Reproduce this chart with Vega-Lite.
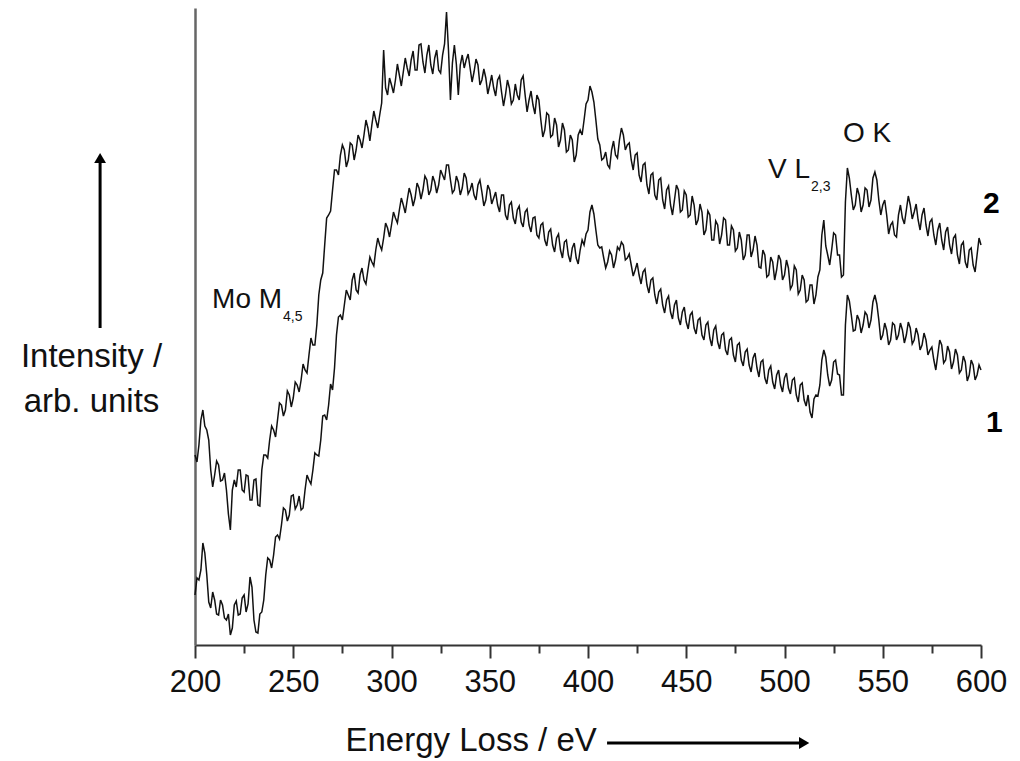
{
  "$schema": "https://vega.github.io/schema/vega-lite/v6.json",
  "width": 786,
  "height": 637,
  "autosize": {"type": "none"},
  "padding": {"left": 195, "top": 8, "right": 39, "bottom": 116},
  "background": "white",
  "config": {"view": {"stroke": null}, "font": "Liberation Sans"},
  "datasets": {
    "spectra": [
      {"e":200,"a":185,"b":45},{"e":201,"a":178,"b":62},{"e":202,"a":195,"b":60},{"e":203,"a":220,"b":70},{"e":204,"a":230,"b":97},{"e":205,"a":214,"b":87},{"e":206,"a":210,"b":65},{"e":207,"a":200,"b":38},{"e":208,"a":170,"b":32},{"e":209,"a":153,"b":48},
      {"e":210,"a":165,"b":40},{"e":211,"a":179,"b":26},{"e":212,"a":175,"b":25},{"e":213,"a":159,"b":40},{"e":214,"a":160,"b":35},{"e":215,"a":167,"b":22},{"e":216,"a":150,"b":20},{"e":217,"a":126,"b":26},{"e":218,"a":110,"b":5},{"e":219,"a":150,"b":12},
      {"e":220,"a":160,"b":35},{"e":221,"a":153,"b":39},{"e":222,"a":170,"b":25},{"e":223,"a":170,"b":26},{"e":224,"a":150,"b":42},{"e":225,"a":148,"b":45},{"e":226,"a":165,"b":28},{"e":227,"a":164,"b":36},{"e":228,"a":140,"b":63},{"e":229,"a":140,"b":53},
      {"e":230,"a":160,"b":20},{"e":231,"a":161,"b":8},{"e":232,"a":135,"b":7},{"e":233,"a":134,"b":26},{"e":234,"a":170,"b":28},{"e":235,"a":185,"b":40},{"e":236,"a":185,"b":65},{"e":237,"a":182,"b":82},{"e":238,"a":200,"b":80},{"e":239,"a":214,"b":72},
      {"e":240,"a":210,"b":85},{"e":241,"a":203,"b":103},{"e":242,"a":220,"b":105},{"e":243,"a":237,"b":101},{"e":244,"a":235,"b":115},{"e":245,"a":224,"b":132},{"e":246,"a":230,"b":130},{"e":247,"a":249,"b":119},{"e":248,"a":245,"b":125},{"e":249,"a":233,"b":144},
      {"e":250,"a":242,"b":145},{"e":251,"a":258,"b":131},{"e":252,"a":255,"b":135},{"e":253,"a":248,"b":144},{"e":254,"a":260,"b":130},{"e":255,"a":276,"b":132},{"e":256,"a":270,"b":150},{"e":257,"a":267,"b":165},{"e":258,"a":285,"b":160},{"e":259,"a":302,"b":156},
      {"e":260,"a":295,"b":170},{"e":261,"a":295,"b":187},{"e":262,"a":315,"b":185},{"e":263,"a":345,"b":184},{"e":264,"a":360,"b":200},{"e":265,"a":367,"b":224},{"e":266,"a":395,"b":225},{"e":267,"a":422,"b":220},{"e":268,"a":425,"b":235},{"e":269,"a":429,"b":256},
      {"e":270,"a":450,"b":250},{"e":271,"a":470,"b":272},{"e":272,"a":470,"b":305},{"e":273,"a":465,"b":323},{"e":274,"a":485,"b":325},{"e":275,"a":495,"b":320},{"e":276,"a":490,"b":335},{"e":277,"a":473,"b":350},{"e":278,"a":480,"b":345},{"e":279,"a":497,"b":340},
      {"e":280,"a":495,"b":360},{"e":281,"a":480,"b":367},{"e":282,"a":490,"b":350},{"e":283,"a":505,"b":347},{"e":284,"a":500,"b":365},{"e":285,"a":492,"b":372},{"e":286,"a":505,"b":360},{"e":287,"a":520,"b":356},{"e":288,"a":512,"b":370},{"e":289,"a":499,"b":383},
      {"e":290,"a":515,"b":378},{"e":291,"a":529,"b":374},{"e":292,"a":520,"b":390},{"e":293,"a":512,"b":402},{"e":294,"a":525,"b":395},{"e":295,"a":537,"b":390},{"e":296,"a":590,"b":402},{"e":297,"a":552,"b":417},{"e":298,"a":545,"b":412},{"e":299,"a":562,"b":403},
      {"e":300,"a":555,"b":415},{"e":301,"a":547,"b":428},{"e":302,"a":560,"b":422},{"e":303,"a":576,"b":417},{"e":304,"a":565,"b":430},{"e":305,"a":554,"b":442},{"e":306,"a":568,"b":435},{"e":307,"a":582,"b":427},{"e":308,"a":572,"b":440},{"e":309,"a":564,"b":452},
      {"e":310,"a":580,"b":445},{"e":311,"a":589,"b":434},{"e":312,"a":570,"b":442},{"e":313,"a":570,"b":457},{"e":314,"a":595,"b":452},{"e":315,"a":596,"b":441},{"e":316,"a":578,"b":450},{"e":317,"a":567,"b":464},{"e":318,"a":585,"b":460},{"e":319,"a":595,"b":445},
      {"e":320,"a":575,"b":450},{"e":321,"a":566,"b":464},{"e":322,"a":582,"b":458},{"e":323,"a":590,"b":447},{"e":324,"a":570,"b":455},{"e":325,"a":567,"b":470},{"e":326,"a":585,"b":465},{"e":327,"a":596,"b":460},{"e":328,"a":628,"b":475},{"e":329,"a":590,"b":475},
      {"e":330,"a":540,"b":460},{"e":331,"a":577,"b":447},{"e":332,"a":595,"b":450},{"e":333,"a":576,"b":464},{"e":334,"a":545,"b":458},{"e":335,"a":575,"b":445},{"e":336,"a":585,"b":452},{"e":337,"a":572,"b":467},{"e":338,"a":580,"b":462},{"e":339,"a":586,"b":446},
      {"e":340,"a":572,"b":450},{"e":341,"a":558,"b":457},{"e":342,"a":568,"b":445},{"e":343,"a":581,"b":440},{"e":344,"a":575,"b":455},{"e":345,"a":555,"b":460},{"e":346,"a":560,"b":448},{"e":347,"a":571,"b":434},{"e":348,"a":562,"b":440},{"e":349,"a":546,"b":455},
      {"e":350,"a":555,"b":450},{"e":351,"a":565,"b":436},{"e":352,"a":552,"b":442},{"e":353,"a":544,"b":448},{"e":354,"a":560,"b":435},{"e":355,"a":564,"b":428},{"e":356,"a":548,"b":445},{"e":357,"a":534,"b":445},{"e":358,"a":545,"b":425},{"e":359,"a":560,"b":420},
      {"e":360,"a":552,"b":435},{"e":361,"a":536,"b":438},{"e":362,"a":540,"b":422},{"e":363,"a":556,"b":416},{"e":364,"a":545,"b":430},{"e":365,"a":540,"b":434},{"e":366,"a":560,"b":418},{"e":367,"a":564,"b":413},{"e":368,"a":545,"b":428},{"e":369,"a":528,"b":431},
      {"e":370,"a":540,"b":415},{"e":371,"a":549,"b":408},{"e":372,"a":535,"b":422},{"e":373,"a":526,"b":423},{"e":374,"a":545,"b":405},{"e":375,"a":540,"b":402},{"e":376,"a":520,"b":415},{"e":377,"a":503,"b":417},{"e":378,"a":510,"b":400},{"e":379,"a":527,"b":394},
      {"e":380,"a":525,"b":408},{"e":381,"a":503,"b":411},{"e":382,"a":505,"b":395},{"e":383,"a":522,"b":388},{"e":384,"a":515,"b":402},{"e":385,"a":493,"b":406},{"e":386,"a":500,"b":390},{"e":387,"a":517,"b":382},{"e":388,"a":510,"b":398},{"e":389,"a":488,"b":400},
      {"e":390,"a":490,"b":385},{"e":391,"a":505,"b":378},{"e":392,"a":500,"b":392},{"e":393,"a":478,"b":397},{"e":394,"a":485,"b":382},{"e":395,"a":505,"b":376},{"e":396,"a":510,"b":390},{"e":397,"a":505,"b":400},{"e":398,"a":520,"b":395},{"e":399,"a":536,"b":406},
      {"e":400,"a":540,"b":410},{"e":401,"a":554,"b":428},{"e":402,"a":548,"b":435},{"e":403,"a":538,"b":426},{"e":404,"a":520,"b":410},{"e":405,"a":501,"b":395},{"e":406,"a":495,"b":392},{"e":407,"a":480,"b":393},{"e":408,"a":482,"b":382},{"e":409,"a":488,"b":372},
      {"e":410,"a":475,"b":378},{"e":411,"a":472,"b":389},{"e":412,"a":490,"b":385},{"e":413,"a":499,"b":372},{"e":414,"a":485,"b":380},{"e":415,"a":482,"b":393},{"e":416,"a":500,"b":390},{"e":417,"a":512,"b":398},{"e":418,"a":505,"b":395},{"e":419,"a":490,"b":380},
      {"e":420,"a":495,"b":382},{"e":421,"a":497,"b":386},{"e":422,"a":480,"b":375},{"e":423,"a":470,"b":364},{"e":424,"a":485,"b":370},{"e":425,"a":487,"b":377},{"e":426,"a":465,"b":365},{"e":427,"a":458,"b":356},{"e":428,"a":475,"b":368},{"e":429,"a":477,"b":371},
      {"e":430,"a":455,"b":355},{"e":431,"a":446,"b":347},{"e":432,"a":465,"b":360},{"e":433,"a":467,"b":362},{"e":434,"a":445,"b":345},{"e":435,"a":440,"b":336},{"e":436,"a":460,"b":348},{"e":437,"a":462,"b":351},{"e":438,"a":440,"b":335},{"e":439,"a":431,"b":327},
      {"e":440,"a":450,"b":340},{"e":441,"a":454,"b":344},{"e":442,"a":435,"b":328},{"e":443,"a":425,"b":321},{"e":444,"a":440,"b":335},{"e":445,"a":455,"b":340},{"e":446,"a":450,"b":322},{"e":447,"a":428,"b":315},{"e":448,"a":430,"b":328},{"e":449,"a":449,"b":333},
      {"e":450,"a":445,"b":318},{"e":451,"a":423,"b":311},{"e":452,"a":425,"b":325},{"e":453,"a":444,"b":328},{"e":454,"a":435,"b":312},{"e":455,"a":415,"b":306},{"e":456,"a":420,"b":320},{"e":457,"a":436,"b":322},{"e":458,"a":428,"b":305},{"e":459,"a":405,"b":300},
      {"e":460,"a":410,"b":315},{"e":461,"a":429,"b":318},{"e":462,"a":425,"b":302},{"e":463,"a":400,"b":294},{"e":464,"a":400,"b":310},{"e":465,"a":419,"b":314},{"e":466,"a":415,"b":298},{"e":467,"a":396,"b":291},{"e":468,"a":405,"b":305},{"e":469,"a":422,"b":307},
      {"e":470,"a":420,"b":290},{"e":471,"a":395,"b":285},{"e":472,"a":395,"b":300},{"e":473,"a":414,"b":302},{"e":474,"a":410,"b":285},{"e":475,"a":389,"b":278},{"e":476,"a":392,"b":295},{"e":477,"a":408,"b":297},{"e":478,"a":400,"b":280},{"e":479,"a":380,"b":274},
      {"e":480,"a":385,"b":288},{"e":481,"a":405,"b":291},{"e":482,"a":405,"b":275},{"e":483,"a":383,"b":268},{"e":484,"a":390,"b":282},{"e":485,"a":404,"b":287},{"e":486,"a":395,"b":272},{"e":487,"a":373,"b":263},{"e":488,"a":372,"b":278},{"e":489,"a":390,"b":280},
      {"e":490,"a":385,"b":262},{"e":491,"a":363,"b":256},{"e":492,"a":365,"b":270},{"e":493,"a":383,"b":274},{"e":494,"a":378,"b":258},{"e":495,"a":360,"b":251},{"e":496,"a":370,"b":265},{"e":497,"a":385,"b":270},{"e":498,"a":380,"b":255},{"e":499,"a":360,"b":248},
      {"e":500,"a":365,"b":262},{"e":501,"a":380,"b":267},{"e":502,"a":372,"b":252},{"e":503,"a":351,"b":246},{"e":504,"a":355,"b":260},{"e":505,"a":374,"b":262},{"e":506,"a":370,"b":245},{"e":507,"a":346,"b":238},{"e":508,"a":350,"b":255},{"e":509,"a":365,"b":257},
      {"e":510,"a":360,"b":240},{"e":511,"a":338,"b":234},{"e":512,"a":340,"b":245},{"e":513,"a":355,"b":228},{"e":514,"a":355,"b":222},{"e":515,"a":336,"b":241},{"e":516,"a":345,"b":245},{"e":517,"a":363,"b":244},{"e":518,"a":370,"b":255},{"e":519,"a":405,"b":280},
      {"e":520,"a":420,"b":290},{"e":521,"a":394,"b":283},{"e":522,"a":385,"b":265},{"e":523,"a":375,"b":254},{"e":524,"a":390,"b":260},{"e":525,"a":407,"b":278},{"e":526,"a":405,"b":280},{"e":527,"a":385,"b":266},{"e":528,"a":385,"b":265},{"e":529,"a":363,"b":245},
      {"e":530,"a":365,"b":245},{"e":531,"a":438,"b":315},{"e":532,"a":472,"b":345},{"e":533,"a":462,"b":339},{"e":534,"a":445,"b":325},{"e":535,"a":430,"b":309},{"e":536,"a":435,"b":310},{"e":537,"a":452,"b":325},{"e":538,"a":445,"b":320},{"e":539,"a":428,"b":307},
      {"e":540,"a":435,"b":315},{"e":541,"a":452,"b":328},{"e":542,"a":450,"b":325},{"e":543,"a":433,"b":312},{"e":544,"a":440,"b":320},{"e":545,"a":462,"b":338},{"e":546,"a":468,"b":345},{"e":547,"a":460,"b":336},{"e":548,"a":440,"b":320},{"e":549,"a":425,"b":300},
      {"e":550,"a":435,"b":305},{"e":551,"a":440,"b":317},{"e":552,"a":425,"b":310},{"e":553,"a":406,"b":295},{"e":554,"a":415,"b":300},{"e":555,"a":418,"b":317},{"e":556,"a":405,"b":315},{"e":557,"a":403,"b":300},{"e":558,"a":425,"b":305},{"e":559,"a":435,"b":317},
      {"e":560,"a":422,"b":310},{"e":561,"a":416,"b":297},{"e":562,"a":430,"b":305},{"e":563,"a":444,"b":318},{"e":564,"a":435,"b":312},{"e":565,"a":421,"b":296},{"e":566,"a":428,"b":300},{"e":567,"a":436,"b":312},{"e":568,"a":420,"b":305},{"e":569,"a":410,"b":290},
      {"e":570,"a":425,"b":295},{"e":571,"a":432,"b":307},{"e":572,"a":415,"b":300},{"e":573,"a":404,"b":285},{"e":574,"a":418,"b":290},{"e":575,"a":421,"b":293},{"e":576,"a":405,"b":280},{"e":577,"a":395,"b":270},{"e":578,"a":410,"b":285},{"e":579,"a":417,"b":300},
      {"e":580,"a":400,"b":295},{"e":581,"a":390,"b":277},{"e":582,"a":408,"b":280},{"e":583,"a":413,"b":294},{"e":584,"a":395,"b":288},{"e":585,"a":386,"b":271},{"e":586,"a":402,"b":278},{"e":587,"a":405,"b":291},{"e":588,"a":385,"b":285},{"e":589,"a":376,"b":267},
      {"e":590,"a":395,"b":270},{"e":591,"a":398,"b":284},{"e":592,"a":378,"b":278},{"e":593,"a":372,"b":259},{"e":594,"a":390,"b":265},{"e":595,"a":392,"b":280},{"e":596,"a":375,"b":275},{"e":597,"a":368,"b":260},{"e":598,"a":385,"b":265},{"e":599,"a":402,"b":275},
      {"e":600,"a":395,"b":270}
    ]
  },
  "layer": [
    {
      "data": {"name": "spectra"},
      "mark": {"type": "line", "color": "#111111", "strokeWidth": 1.5},
      "encoding": {
        "x": {
          "field": "e", "type": "quantitative",
          "scale": {"domain": [200, 600], "nice": false, "zero": false},
          "axis": {
            "values": [200,225,250,275,300,325,350,375,400,425,450,475,500,525,550,575,600],
            "labelExpr": "datum.value % 50 === 0 ? datum.label : ''",
            "tickSize": {"condition": {"test": "datum.value % 50 === 0", "value": 13}, "value": 8},
            "tickWidth": 2, "tickColor": "#333333",
            "domainColor": "#333333", "domainWidth": 2,
            "grid": false,
            "labelFontSize": 31, "labelColor": "#111111", "labelPadding": 9,
            "labelFlush": false, "labelOverlap": false,
            "title": "Energy Loss / eV",
            "titleFontSize": 33, "titleFontWeight": "normal", "titleColor": "#111111",
            "titleAlign": "left", "titleBaseline": "alphabetic",
            "titleX": 150, "titleY": 105
          }
        },
        "y": {
          "field": "a", "type": "quantitative",
          "scale": {"domain": [-5, 632], "nice": false, "zero": false},
          "axis": {
            "ticks": false, "labels": false, "grid": false,
            "domainColor": "#666666", "domainWidth": 2.5,
            "title": ["Intensity /", "arb. units"],
            "titleAngle": 0, "titleFontSize": 33, "titleFontWeight": "normal", "titleColor": "#111111",
            "titleAlign": "center", "titleBaseline": "middle",
            "titleX": -104, "titleY": 348, "titleLineHeight": 45
          }
        }
      }
    },
    {
      "data": {"name": "spectra"},
      "mark": {"type": "line", "color": "#111111", "strokeWidth": 1.5},
      "encoding": {
        "x": {"field": "e", "type": "quantitative"},
        "y": {"field": "b", "type": "quantitative"}
      }
    },
    {
      "data": {"values": [
        {"x1": 409.7, "x2": 508, "y1": -103, "y2": -103},
        {"x1": 151.7, "x2": 151.7, "y1": 312, "y2": 478}
      ]},
      "mark": {"type": "rule", "color": "#000000", "strokeWidth": 3},
      "encoding": {
        "x": {"field": "x1", "type": "quantitative"},
        "x2": {"field": "x2"},
        "y": {"field": "y1", "type": "quantitative"},
        "y2": {"field": "y2"}
      }
    },
    {
      "data": {"values": [{"x": 510, "y": -103}]},
      "mark": {"type": "point", "shape": "triangle-right", "filled": true, "color": "#000000", "size": 140, "opacity": 1},
      "encoding": {
        "x": {"field": "x", "type": "quantitative"},
        "y": {"field": "y", "type": "quantitative"}
      }
    },
    {
      "data": {"values": [{"x": 151.7, "y": 482}]},
      "mark": {"type": "point", "shape": "triangle-up", "filled": true, "color": "#000000", "size": 140, "opacity": 1},
      "encoding": {
        "x": {"field": "x", "type": "quantitative"},
        "y": {"field": "y", "type": "quantitative"}
      }
    },
    {
      "data": {"values": [
        {"e": 208.7, "i": 332, "t": "Mo M"},
        {"e": 491.6, "i": 462, "t": "V L"},
        {"e": 529.8, "i": 498, "t": "O K"}
      ]},
      "mark": {"type": "text", "align": "left", "baseline": "alphabetic", "fontSize": 28, "color": "#111111"},
      "encoding": {
        "x": {"field": "e", "type": "quantitative"},
        "y": {"field": "i", "type": "quantitative"},
        "text": {"field": "t"}
      }
    },
    {
      "data": {"values": [
        {"e": 244.8, "i": 319, "t": "4,5"},
        {"e": 513.5, "i": 449, "t": "2,3"}
      ]},
      "mark": {"type": "text", "align": "left", "baseline": "alphabetic", "fontSize": 14, "color": "#111111"},
      "encoding": {
        "x": {"field": "e", "type": "quantitative"},
        "y": {"field": "i", "type": "quantitative"},
        "text": {"field": "t"}
      }
    },
    {
      "data": {"values": [
        {"e": 601, "i": 427, "t": "2"},
        {"e": 602.5, "i": 208, "t": "1"}
      ]},
      "mark": {"type": "text", "align": "left", "baseline": "alphabetic", "fontSize": 30, "fontWeight": "bold", "color": "#000000"},
      "encoding": {
        "x": {"field": "e", "type": "quantitative"},
        "y": {"field": "i", "type": "quantitative"},
        "text": {"field": "t"}
      }
    }
  ]
}
